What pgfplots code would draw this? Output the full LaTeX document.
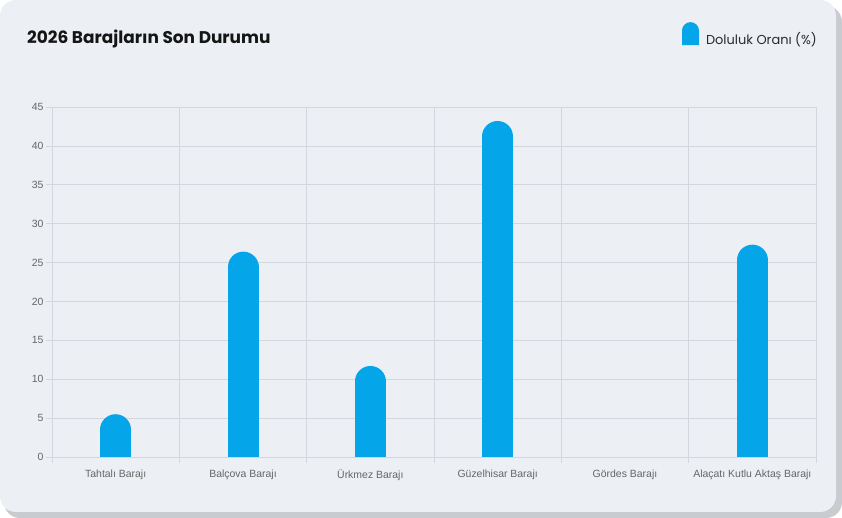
\documentclass[border=0pt]{standalone}
\usepackage{pgfplots}
\pgfplotsset{compat=1.18}
\usepackage{fontspec}
\setmainfont{Liberation Sans}
\newfontfamily\titlefont{Poppins}
\definecolor{cardbg}{HTML}{ECEFF3}
\definecolor{shadowc}{HTML}{C8CBD0}
\definecolor{gridc}{HTML}{D3D7DD}
\definecolor{ticklab}{HTML}{666666}
\definecolor{titlec}{HTML}{151515}
\definecolor{legc}{HTML}{2A2A2A}
\definecolor{barblue}{HTML}{05A5EA}
\begin{document}
\begin{tikzpicture}[x=1bp,y=1bp]
\fill[white] (0,0) rectangle (842,518);
\fill[shadowc,rounded corners=16bp] (4,0) rectangle (842,512);
\fill[cardbg,rounded corners=16bp] (0,6) rectangle (836,518);
\node[anchor=base west,inner sep=0pt,text=titlec,font=\titlefont\bfseries\fontsize{17}{20}\selectfont] at (27,474) {2026 Barajların Son Durumu};
\begin{axis}[
  at={(52bp,61bp)}, anchor=south west,
  scale only axis, width=764bp, height=350bp,
  xmin=-0.5, xmax=5.5, ymin=0, ymax=45,
  xtick={0,1,2,3,4,5},
  xticklabels={Tahtalı Barajı, Balçova Barajı, Ürkmez Barajı, Güzelhisar Barajı, Gördes Barajı, Alaçatı Kutlu Aktaş Barajı},
  minor xtick={-0.5,0.5,1.5,2.5,3.5,4.5,5.5},
  ytick={0,5,...,45},
  xminorgrids=true, ymajorgrids=true, xmajorgrids=false,
  grid style={draw=gridc, line width=0.7bp},
  minor grid style={draw=gridc, line width=0.7bp},
  axis line style={draw=gridc, line width=0.7bp},
  tick pos=left,
  tick align=outside, major tick length=6bp, minor tick length=6bp,
  tick style={draw=gridc, line width=0.7bp},
  major x tick style={draw=none},
  /pgf/number format/assume math mode=true,
  ticklabel style={font=\fontsize{10.5}{12}\selectfont, text=ticklab},
  yticklabel style={xshift=1bp},
  xticklabel style={yshift=-3bp},
  legend style={at={(1,1)}, anchor=east, xshift=3bp, yshift=64bp, draw=none, fill=none, inner sep=0pt,
    font=\titlefont\fontsize{13}{15}\selectfont, text=legc},
  legend image code/.code={%
    \path[draw=none,fill=none] (0bp,0bp) (22bp,0bp);
    \path[overlay,fill=barblue,draw=none] (0bp,10bp) -- (0bp,24.5bp) arc[start angle=180,end angle=0,radius=8.5bp] -- (17bp,10bp) -- cycle;},
]
\addplot[ycomb, draw=barblue, line width=31bp, line cap=round, yshift=-15.5bp, no markers]
  coordinates {(0,5.5) (1,26.4) (2,11.7) (3,43.2) (4,0) (5,27.3)};
\addlegendentry{Doluluk Oranı (\%)}
\end{axis}
\end{tikzpicture}
\end{document}
